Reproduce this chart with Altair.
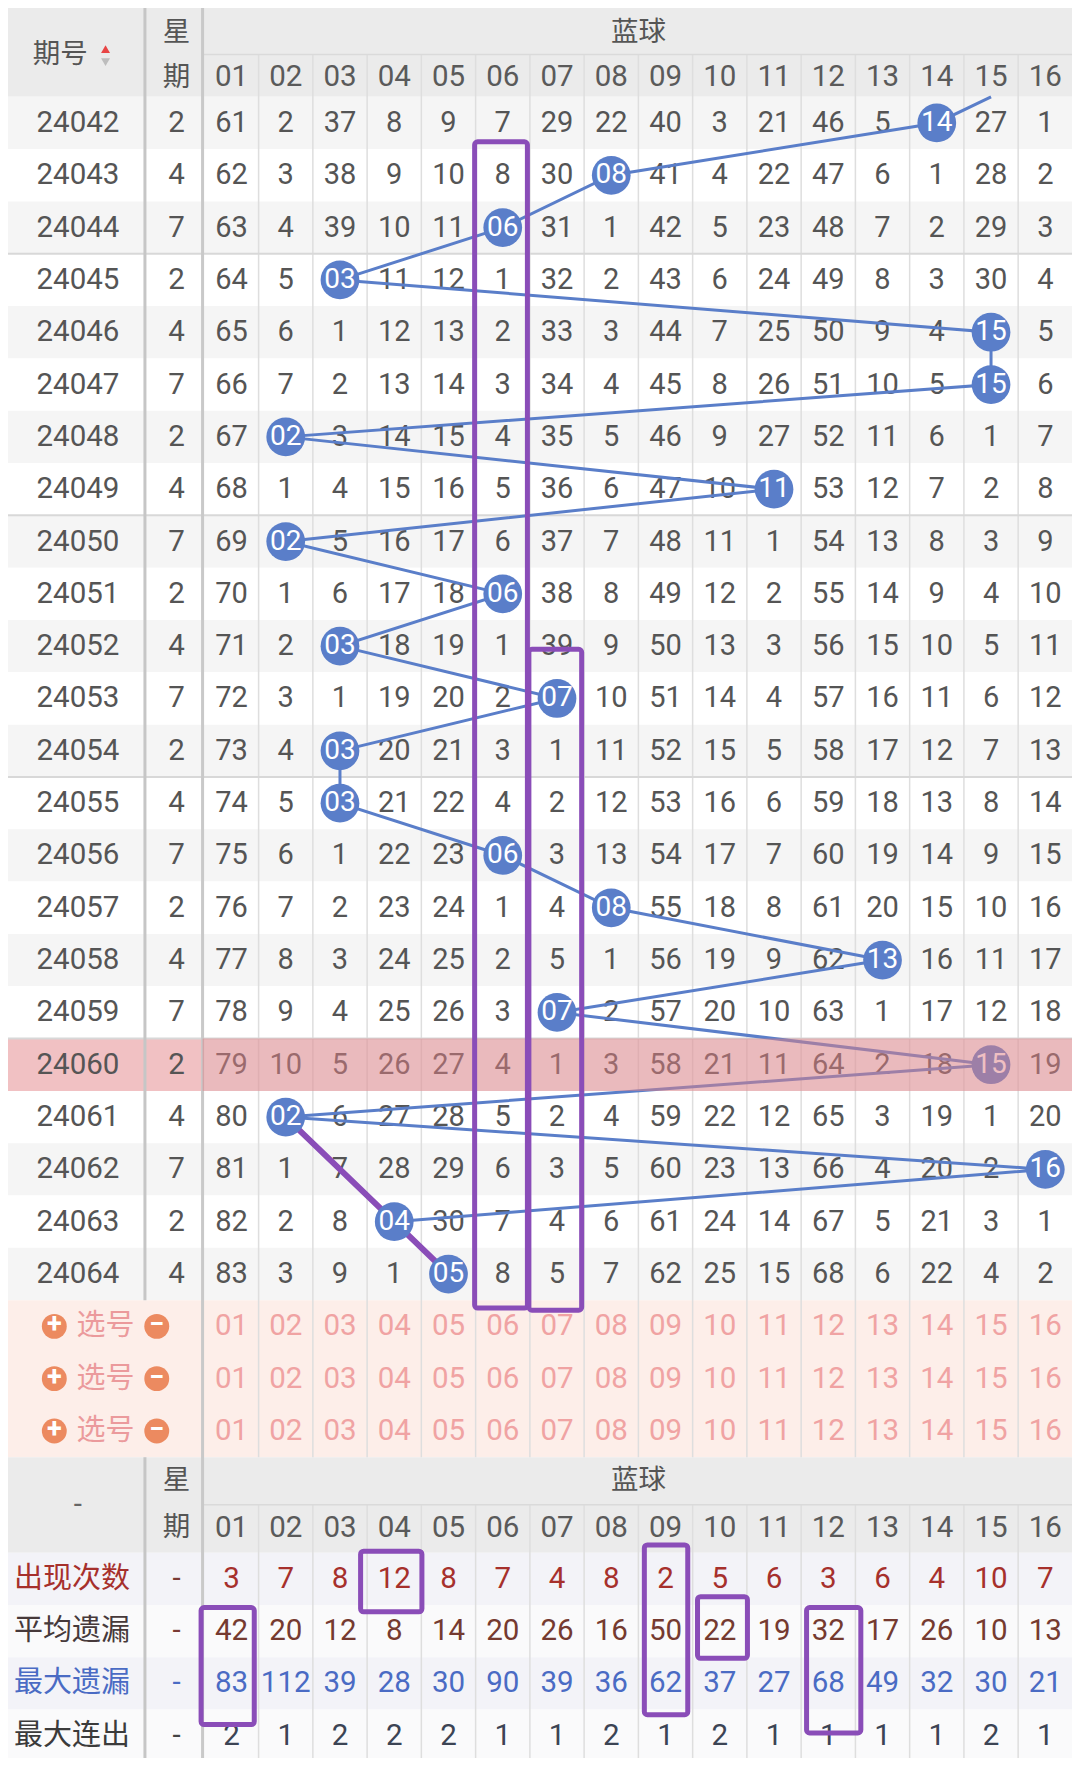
import altair as alt
import pandas as pd

# ---------------- data ----------------
issues = ["24042", "24043", "24044", "24045", "24046", "24047", "24048", "24049",
          "24050", "24051", "24052", "24053", "24054", "24055", "24056", "24057",
          "24058", "24059", "24060", "24061", "24062", "24063", "24064"]
weekdays = [2, 4, 7, 2, 4, 7, 2, 4, 7, 2, 4, 7, 2, 4, 7, 2, 4, 7, 2, 4, 7, 2, 4]
blue_balls = [14, 8, 6, 3, 15, 15, 2, 11, 2, 6, 3, 7, 3, 3, 6, 8, 13, 7, 15, 2, 16, 4, 5]
prev_blue = 16  # draw before 24042 (line enters from above)

# omission table (0 = drawn ball in that period)
omission = [
    [61, 2, 37, 8, 9, 7, 29, 22, 40, 3, 21, 46, 5, 0, 27, 1],
    [62, 3, 38, 9, 10, 8, 30, 0, 41, 4, 22, 47, 6, 1, 28, 2],
    [63, 4, 39, 10, 11, 0, 31, 1, 42, 5, 23, 48, 7, 2, 29, 3],
    [64, 5, 0, 11, 12, 1, 32, 2, 43, 6, 24, 49, 8, 3, 30, 4],
    [65, 6, 1, 12, 13, 2, 33, 3, 44, 7, 25, 50, 9, 4, 0, 5],
    [66, 7, 2, 13, 14, 3, 34, 4, 45, 8, 26, 51, 10, 5, 0, 6],
    [67, 0, 3, 14, 15, 4, 35, 5, 46, 9, 27, 52, 11, 6, 1, 7],
    [68, 1, 4, 15, 16, 5, 36, 6, 47, 10, 0, 53, 12, 7, 2, 8],
    [69, 0, 5, 16, 17, 6, 37, 7, 48, 11, 1, 54, 13, 8, 3, 9],
    [70, 1, 6, 17, 18, 0, 38, 8, 49, 12, 2, 55, 14, 9, 4, 10],
    [71, 2, 0, 18, 19, 1, 39, 9, 50, 13, 3, 56, 15, 10, 5, 11],
    [72, 3, 1, 19, 20, 2, 0, 10, 51, 14, 4, 57, 16, 11, 6, 12],
    [73, 4, 0, 20, 21, 3, 1, 11, 52, 15, 5, 58, 17, 12, 7, 13],
    [74, 5, 0, 21, 22, 4, 2, 12, 53, 16, 6, 59, 18, 13, 8, 14],
    [75, 6, 1, 22, 23, 0, 3, 13, 54, 17, 7, 60, 19, 14, 9, 15],
    [76, 7, 2, 23, 24, 1, 4, 0, 55, 18, 8, 61, 20, 15, 10, 16],
    [77, 8, 3, 24, 25, 2, 5, 1, 56, 19, 9, 62, 0, 16, 11, 17],
    [78, 9, 4, 25, 26, 3, 0, 2, 57, 20, 10, 63, 1, 17, 12, 18],
    [79, 10, 5, 26, 27, 4, 1, 3, 58, 21, 11, 64, 2, 18, 0, 19],
    [80, 0, 6, 27, 28, 5, 2, 4, 59, 22, 12, 65, 3, 19, 1, 20],
    [81, 1, 7, 28, 29, 6, 3, 5, 60, 23, 13, 66, 4, 20, 2, 0],
    [82, 2, 8, 0, 30, 7, 4, 6, 61, 24, 14, 67, 5, 21, 3, 1],
    [83, 3, 9, 1, 0, 8, 5, 7, 62, 25, 15, 68, 6, 22, 4, 2],
]
ball_labels = ["01", "02", "03", "04", "05", "06", "07", "08",
               "09", "10", "11", "12", "13", "14", "15", "16"]
stat_names = ["出现次数", "平均遗漏", "最大遗漏", "最大连出"]
appear_counts = [3, 7, 8, 12, 8, 7, 4, 8, 2, 5, 6, 3, 6, 4, 10, 7]
avg_omission = [42, 20, 12, 8, 14, 20, 26, 16, 50, 22, 19, 32, 17, 26, 10, 13]
max_omission = [83, 112, 39, 28, 30, 90, 39, 36, 62, 37, 27, 68, 49, 32, 30, 21]
max_streak = [2, 1, 2, 2, 2, 1, 1, 2, 1, 2, 1, 1, 1, 1, 2, 1]
highlight_issue = "24060"
pick_rows = 3

# hand-drawn purple marks (in cell units)
trend_boxes = [(5, 0.86, 23.15), (6, 10.56, 23.19)]          # column, row from, row to
purple_path = [19, 21, 22]                                    # period indexes joined
stat_boxes = [(2.88, 4.01, -0.03, 1.13), (-0.06, 0.92, 1.05, 3.29),
              (8.11, 8.91, -0.15, 3.10), (9.09, 10.01, 0.84, 2.02),
              (11.10, 12.10, 1.05, 3.45)]

# ---------------- geometry ----------------
W_REF, H_REF = 1080, 1766
XA, XB = 139.0, 197.5          # column splits: 期号 | 星期 | balls
X0, CW = 199.3, 55.07
Y_H1, Y_DATA, RH = 47.0, 89.6, 52.8
N = len(issues)
Y_PICK = Y_DATA + RH * N
Y_BH = Y_DATA + RH * (N + pick_rows)
Y_BH1 = Y_BH + 48.0
Y_ST = Y_BH + 96.5
SRH = 52.7

def cx(k):
    return X0 + CW * (k + 0.5)

def cy(r):
    return Y_DATA + RH * (r + 0.5)

def sy(s):
    return Y_ST + SRH * (s + 0.5)

XS = alt.Scale(domain=[0, W_REF], nice=False, zero=False)
YS = alt.Scale(domain=[0, H_REF], nice=False, zero=False, reverse=True)
FX = alt.X("x:Q", scale=XS, axis=None)
FY = alt.Y("y:Q", scale=YS, axis=None)
NUMF = "Roboto"
CJKF = "Noto Sans CJK SC"
BLUE = "#5a7ec9"
PURPLE = "#8a4db8"


def rect_layer(rows, **mk):
    df = pd.DataFrame(rows, columns=["x", "x2", "y", "y2", "c"])
    return alt.Chart(df).mark_rect(**mk).encode(
        x=FX, x2="x2:Q", y=FY, y2="y2:Q", color=alt.Color("c:N", scale=None))


def rule_layer(rows):
    df = pd.DataFrame(rows, columns=["x", "x2", "y", "y2", "c", "w"])
    return alt.Chart(df).mark_rule().encode(
        x=FX, x2="x2:Q", y=FY, y2="y2:Q", color=alt.Color("c:N", scale=None),
        strokeWidth=alt.StrokeWidth("w:Q", scale=None))


def text_layer(rows, **mk):
    df = pd.DataFrame(rows, columns=["x", "y", "t", "c"])
    opts = dict(align="center", baseline="middle")
    opts.update(mk)
    return alt.Chart(df).mark_text(**opts).encode(
        x=FX, y=FY, text="t:N", color=alt.Color("c:N", scale=None))


layers = []

# ---- backgrounds ----
bg = [(0, W_REF, 0, Y_DATA, "#ebebeb")]
for r in range(N):
    bg.append((0, W_REF, Y_DATA + RH * r, Y_DATA + RH * (r + 1), "#f5f5f5" if r % 2 == 0 else "#ffffff"))
    if issues[r] == highlight_issue:
        bg.append((0, XB, Y_DATA + RH * r, Y_DATA + RH * (r + 1), "#f1c1c3"))
bg.append((0, W_REF, Y_PICK, Y_BH, "#fdeee9"))
bg.append((0, W_REF, Y_BH, Y_ST, "#ebebeb"))
for s in range(len(stat_names)):
    bg.append((0, W_REF, Y_ST + SRH * s, Y_ST + SRH * (s + 1), "#f3f3f8" if s % 2 == 0 else "#fafafb"))
layers.append(rect_layer(bg))

# ---- grid lines ----
grid = []
for k in range(1, 16):
    gx = X0 + CW * k
    grid.append((gx, gx, Y_H1, Y_BH, "#dedede", 1.5))
    grid.append((gx, gx, Y_BH1, H_REF, "#dedede", 1.5))
grid.append((XB, W_REF, Y_H1, Y_H1, "#dadada", 1.5))
grid.append((XB, W_REF, Y_BH1, Y_BH1, "#dadada", 1.5))
for k in (3, 8, 13, 18):
    grid.append((0, W_REF, Y_DATA + RH * k, Y_DATA + RH * k, "#d8d8d8", 2))
grid.append((XA, XA, 0, Y_PICK, "#c6c6c6", 3))
grid.append((XA, XA, Y_BH, H_REF, "#c6c6c6", 3))
grid.append((XB, XB, 0, H_REF, "#c9c9c9", 3))
layers.append(rule_layer(grid))

# ---- omission numbers ----
cells = []
for r, row in enumerate(omission):
    for k, v in enumerate(row):
        if v != 0:
            cells.append((cx(k), cy(r), str(v), "#555555"))
layers.append(text_layer(cells, font=NUMF, fontSize=29))

# ---- trend line + balls ----
# segment from the previous draw is cut where it meets the top of the table body
x_prev, y_prev = cx(prev_blue - 1), cy(-1)
x_first, y_first = cx(blue_balls[0] - 1), cy(0)
t = (y_first - Y_DATA) / (y_first - y_prev)
pts = [{"x": x_first + t * (x_prev - x_first), "y": Y_DATA, "o": -1}]
for r, b in enumerate(blue_balls):
    pts.append({"x": cx(b - 1), "y": cy(r), "o": r})
line_df = pd.DataFrame(pts)
layers.append(alt.Chart(line_df).mark_line(color=BLUE, strokeWidth=3).encode(
    x=FX, y=FY, order="o:Q"))

pp = pd.DataFrame([{"x": cx(blue_balls[r] - 1), "y": cy(r), "o": r} for r in purple_path])
layers.append(alt.Chart(pp).mark_line(color=PURPLE, strokeWidth=6).encode(x=FX, y=FY, order="o:Q"))

balls = pd.DataFrame([{"x": cx(b - 1), "y": cy(r)} for r, b in enumerate(blue_balls)])
layers.append(alt.Chart(balls).mark_circle(size=1500, color=BLUE, opacity=1).encode(x=FX, y=FY))
layers.append(text_layer([(cx(b - 1), cy(r), ball_labels[b - 1], "#ffffff") for r, b in enumerate(blue_balls)],
                         font=NUMF, fontSize=28))

# ---- highlighted period overlay ----
hl = [(XB, W_REF, Y_DATA + RH * r, Y_DATA + RH * (r + 1), "#e08086")
      for r in range(N) if issues[r] == highlight_issue]
layers.append(rect_layer(hl, opacity=0.5))

# ---- left columns ----
left = []
for r in range(N):
    left.append((71, cy(r), issues[r], "#555555"))
    left.append((171, cy(r), str(weekdays[r]), "#555555"))
layers.append(text_layer(left, font=NUMF, fontSize=29.5))

# ---- headers ----
hdr_cjk = [(53, 47, "期号", "#555555"), (171, 25, "星", "#555555"), (171, 71, "期", "#555555"),
           (640, 25, "蓝球", "#555555"),
           (171, Y_BH + 24.5, "星", "#555555"), (171, Y_BH + 71.5, "期", "#555555"),
           (640, Y_BH + 24.5, "蓝球", "#555555")]
layers.append(text_layer(hdr_cjk, font=CJKF, fontSize=27.5))
hdr_num = [(cx(k), 70, ball_labels[k], "#5a5a5a") for k in range(16)]
hdr_num += [(cx(k), Y_BH + 71.5, ball_labels[k], "#5a5a5a") for k in range(16)]
hdr_num += [(71, Y_BH + 48, "-", "#666666")]
layers.append(text_layer(hdr_num, font=NUMF, fontSize=29.5))
tri = pd.DataFrame([{"x": 99, "y": 41.5, "c": "#e84545", "s": "triangle-up"},
                    {"x": 99, "y": 54.5, "c": "#bdbdbd", "s": "triangle-down"}])
layers.append(alt.Chart(tri).mark_point(filled=True, size=80, opacity=1).encode(
    x=FX, y=FY, color=alt.Color("c:N", scale=None), shape=alt.Shape("s:N", scale=None)))

# ---- pick rows ----
pick_nums = []
pick_lbl = []
icons = []
signs = []
for p in range(pick_rows):
    yy = cy(N + p)
    for k in range(16):
        pick_nums.append((cx(k), yy, ball_labels[k], "#f0a3a3"))
    pick_lbl.append((99, yy, "选号", "#eb9a9c"))
    icons.append({"x": 47, "y": yy})
    icons.append({"x": 151, "y": yy})
    signs.append((47, yy - 1, "+", "#ffffff"))
    signs.append((151, yy - 1, "−", "#ffffff"))
layers.append(text_layer(pick_nums, font=NUMF, fontSize=29.5))
layers.append(text_layer(pick_lbl, font=CJKF, fontSize=29))
layers.append(alt.Chart(pd.DataFrame(icons)).mark_circle(size=620, color="#ec8a60", opacity=1).encode(x=FX, y=FY))
layers.append(text_layer(signs, font=NUMF, fontSize=27, fontWeight="bold"))

# ---- statistics ----
stat_vals = [appear_counts, avg_omission, max_omission, max_streak]
lbl_colors = ["#a6302c", "#46393a", "#4a6bc4", "#3b3b3b"]
val_colors = ["#a6302c", "#753a30", "#4a6bc4", "#3c4454"]
st_lbl, st_num = [], []
for s, name in enumerate(stat_names):
    st_lbl.append((65, sy(s), name, lbl_colors[s]))
    st_num.append((171, sy(s), "-", "#7a3a34" if s < 2 else ("#4a6bc4" if s == 2 else "#444444")))
    for k in range(16):
        st_num.append((cx(k), sy(s), str(stat_vals[s][k]), val_colors[s]))
layers.append(text_layer(st_lbl, font=CJKF, fontSize=29))
layers.append(text_layer(st_num, font=NUMF, fontSize=29.5))

# ---- purple hand-drawn boxes ----
boxes = []
for k, r0, r1 in trend_boxes:
    boxes.append((X0 + CW * k - 1, X0 + CW * (k + 1) - 2.5, Y_DATA + RH * r0, Y_DATA + RH * r1, PURPLE))
for c0, c1, r0, r1 in stat_boxes:
    boxes.append((X0 + CW * c0, X0 + CW * c1, Y_ST + SRH * r0, Y_ST + SRH * r1, PURPLE))
bdf = pd.DataFrame(boxes, columns=["x", "x2", "y", "y2", "c"])
layers.append(alt.Chart(bdf).mark_rect(fillOpacity=0, stroke=PURPLE, strokeWidth=5, cornerRadius=3).encode(
    x=FX, x2="x2:Q", y=FY, y2="y2:Q"))

chart = alt.layer(*layers).properties(width=1064, height=1750).configure_view(
    stroke=None).properties(padding=0, autosize=alt.AutoSizeParams(type="none"))

chart.save("out.html", embed_options={"renderer": "svg", "actions": False})
